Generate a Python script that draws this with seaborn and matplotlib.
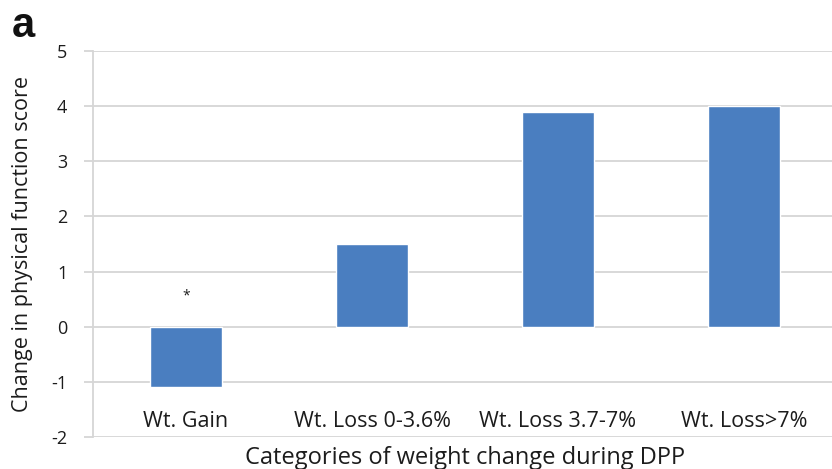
import matplotlib
matplotlib.use("Agg")
import matplotlib.pyplot as plt
import seaborn as sns
import pandas as pd

# Mean change in physical function score by weight-change category
categories = ["Wt. Gain", "Wt. Loss 0-3.6%", "Wt. Loss 3.7-7%", "Wt. Loss>7%"]
score_change = [-1.1, 1.5, 3.9, 4.0]
y_ticks = [-2, -1, 0, 1, 2, 3, 4, 5]
significance = ["*", "", "", ""]

df = pd.DataFrame({"category": categories, "change": score_change})

sns.set_theme(style="white")
plt.rcParams["font.family"] = ["Open Sans", "DejaVu Sans"]

W, H = 832, 469
fig = plt.figure(figsize=(W / 100, H / 100), dpi=100)
ax_left, ax_bottom, ax_w, ax_h = 93, 469 - 437, 744, 386
ax = fig.add_axes([ax_left / W, ax_bottom / H, ax_w / W, ax_h / H])

sns.barplot(data=df, x="category", y="change", color="#4a7ec0",
            width=0.39, saturation=1, ax=ax, zorder=3)

grid_c = "#d6d6d6"
text_c = "#1c1c1c"
ax.set_ylim(-2, 5)
ax.set_xlim(-0.5, 3.5)
ax.set_yticks(y_ticks)
ax.set_yticklabels([str(t) for t in y_ticks])
ax.yaxis.grid(True, color=grid_c, linewidth=1.3, zorder=0)
ax.set_axisbelow(True)

for side in ["top", "right", "bottom"]:
    ax.spines[side].set_visible(False)
ax.spines["left"].set_color(grid_c)
ax.spines["left"].set_linewidth(1.3)

ax.tick_params(axis="y", which="major", left=True, length=6.5, width=1.3,
               color=grid_c, pad=12, labelsize=13, labelcolor=text_c)
ax.tick_params(axis="x", which="major", bottom=False, labelsize=15.5,
               labelcolor=text_c)
for lab in ax.get_xticklabels():
    lab.set_verticalalignment("center")
ax.tick_params(axis="x", pad=-17)

ax.set_xlabel("Categories of weight change during DPP", fontsize=17,
              color=text_c)
ax.xaxis.label.set_verticalalignment("center")
ax.xaxis.set_label_coords(0.5, -(458 - 437) / ax_h)

ax.set_ylabel("Change in physical function score", fontsize=15.5,
              color=text_c)
ax.yaxis.label.set_verticalalignment("center")
ax.yaxis.set_label_coords(-(93 - 23) / ax_w, 0.5)

# Significance marker above the weight-gain bar
for i, mark in enumerate(significance):
    if mark:
        ax.text(i, 0.55, mark, ha="center", va="center", fontsize=10,
                color=text_c)

fig.text(12 / W, 1 - 26 / H, "a", fontsize=30, fontweight="bold",
         family=["Liberation Sans", "DejaVu Sans"], va="center", ha="left",
         color="#111111")

fig.savefig("out.png", dpi=100)
